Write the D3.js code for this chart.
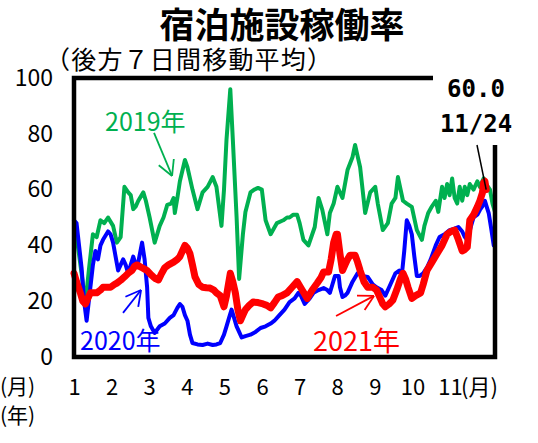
<!DOCTYPE html>
<html>
<head>
<meta charset="utf-8">
<script src="https://cdn.jsdelivr.net/npm/d3@7"></script>
<style>
  body { margin: 0; background: #fff; }
  text { font-family: 'Noto Sans CJK JP', 'Noto Sans', sans-serif; }
</style>
</head>
<body>
<script>
// day of year (1 = Jan 1) and occupancy rate (%), 7-day trailing average
const day2019 = [1,4,7,10,13,16,19,22,25,28,32,35,38,41,44,46,48,50,52,56,58,61,65,69,72,75,78,80,81,83,85,89,91,95,99,103,107,111,114,118,120,122,125,127,130,132,135,137,141,144,147,150,153,157,162,167,170,172,175,178,180,183,187,192,195,198,202,204,207,210,214,218,222,224,226,228,232,236,240,242,246,250,253,256,258,262,265,269,273,277,279,282,285,288,290,293,295,297,299,301,303,305,307,309,311,313,315,318,321,323,326,328,331,333,335];
const rate2019 = [44,40,30,19,32,44,43,49,48,50,47,41,43,61,59,58,53,54,56,59,56,50,41,47,50,54.5,55,57,51.6,57,63,70.6,68,60,53,59,61,64.5,61,47,60,78,96,78,50,28,44,52,59,60,60.6,60,49,44,48,49,50,50,51,51,48,42,40,46.6,57,52.7,44,51.6,55,61,57,67,71.7,76,72,68,51.6,59,61,55,45.5,48,55,57,64.5,56,55,53.8,45.5,42,47,51.6,54,56,52,61,57,62,58,64,57,55,61,56,61,58,62,60,63,61,64,62,60,55,52];

const day2020 = [1,3,5,7,9,11,14,16,18,20,22,24,28,30,32,34,36,38,40,42,44,46,48,50,52,55,57,59,60,62,65,69,73,77,80,83,85,87,89,91,93,95,99,103,107,111,114,117,120,122,124,126,128,130,132,134,137,141,145,149,153,157,160,164,168,172,176,179,181,184,188,191,195,199,202,204,206,208,211,212,214,216,218,222,226,230,234,238,241,245,248,252,256,259,261,263,265,267,269,271,273,275,278,281,284,288,291,295,299,303,306,309,311,313,316,318,321,323,325,327,329,330,332,334];
const rate2020 = [49,48,40,32,20,13,25,33,38,35,40,42,45,44,41,36,31,33,35,33,30,33,36,33,34,41,35,25,14,11,8.6,11,12,14,15,17.6,19,18,15,13,8,5,4.5,4.3,4.8,4.3,4.5,5,8,11,14,17,14,11,9,7,7.5,8,9,10.4,11,12,13,15,17,19.7,21,23,22,19,21,23,24,24.7,24,23,26,29,29,25,21.5,22,23,27,30,29,28.7,26,25,24,22,26,30,31,29,38,49,47,44,36,29,29,30,32,35,40,43,44,45.5,46,46.6,45,43,42,47,50,51,52.7,54,56,53,51.6,46,40];

const day2021 = [1,3,6,8,10,12,14,17,19,22,24,27,30,33,35,38,41,44,47,49,51,53,55,57,59,62,64,66,68,70,73,76,80,83,85,87,89,91,93,95,97,100,103,106,109,112,114,117,120,122,125,127,129,131,133,135,137,140,143,147,151,154,157,160,163,166,170,174,178,182,186,190,194,197,199,203,205,207,209,210,212,214,216,218,220,224,226,228,231,234,236,238,241,244,246,248,251,254,257,260,262,264,266,269,272,276,278,281,285,289,293,297,300,303,306,309,311,313,315,318,321,323,325,326,327,328];
const rate2021 = [30,27,23,20,19,21,23,23,23,24,25,25,25,26,26.5,27.5,28.7,30,31,32.5,33,32.5,32,31.5,31,29.5,28.7,28,27.6,29.5,32,33,34,35,36,38,40,39,37,33,28.7,26,25,24.8,24.7,24,23,22,18,22,30,27,23,17,13,15,17,18.5,19.7,19.5,19,18.5,17.6,19.5,21.5,22,23,25,27,24,21,24,26.5,28.5,30.5,30.5,35,41,44,44,37,31,33,35,36.5,36.5,34,31,27,25,25,25,24,21,19,18,19,20.4,24,28,30,28,25,21,22,23,26,31,34,37,40,44,45,45.5,42,38,38.5,39.4,49,51,53.8,56,58.8,62.5,63,60];

const months = [1,2,3,4,5,6,7,8,9,10,11];
const yTicks = [0,20,40,60,80,100];

const W = 538, H = 443;
const svg = d3.select("body").append("svg")
    .attr("width", W)
    .attr("height", H);

const x = d3.scaleLinear().domain([1, 335]).range([74, 495]);
const y = d3.scaleLinear().domain([0, 100]).range([357, 78]);
// month labels are spaced evenly in the original
const xm = d3.scalePoint().domain(months).range([74, 450]);

// title
svg.append("text")
    .attr("x", 282)
    .attr("y", 38)
    .attr("text-anchor", "middle")
    .attr("font-size", 35)
    .attr("font-weight", "bold")
    .text("宿泊施設稼働率");

svg.append("text")
    .attr("x", 45)
    .attr("y", 69)
    .attr("font-size", 25)
    .attr("letter-spacing", 1.2)
    .text("（後方７日間移動平均）");

// y axis
const yAxis = svg.append("g")
    .attr("transform", "translate(74,0)")
    .call(d3.axisLeft(y).tickValues(yTicks).tickSize(0).tickPadding(21));
yAxis.select(".domain").remove();
yAxis.selectAll("text")
    .attr("font-size", 23)
    .attr("fill", "#000")
    .style("font-family", "'Noto Sans CJK JP', sans-serif");

// x axis (months)
const xAxis = svg.append("g")
    .attr("transform", "translate(0,372)")
    .call(d3.axisBottom(xm).tickSize(0).tickPadding(7));
xAxis.select(".domain").remove();
xAxis.selectAll("text")
    .attr("font-size", 22)
    .attr("fill", "#000")
    .style("font-family", "'Noto Sans CJK JP', sans-serif");

svg.append("text").attr("x", 0).attr("y", 394).attr("font-size", 21).text("(月)");
svg.append("text").attr("x", 0).attr("y", 423).attr("font-size", 21).text("(年)");
svg.append("text").attr("x", 461).attr("y", 395).attr("font-size", 22).text("(月)");

// lines
const line = d3.line()
    .x(d => x(d[0]))
    .y(d => y(d[1]));

const series = [
    {days: day2019, vals: rate2019, color: "#00b050", width: 4},
    {days: day2020, vals: rate2020, color: "#0000ff", width: 4},
    {days: day2021, vals: rate2021, color: "#ff0000", width: 7}
];

series.forEach(s => {
    svg.append("path")
        .datum(d3.zip(s.days, s.vals))
        .attr("fill", "none")
        .attr("stroke", s.color)
        .attr("stroke-width", s.width)
        .attr("stroke-linejoin", "round")
        .attr("stroke-linecap", "round")
        .attr("d", line);
});

// frame (open at top-right for the callout)
svg.append("path")
    .attr("d", `M433,${y(100)}H${x(1)}V${y(0)}H${x(335)}V145`)
    .attr("fill", "none")
    .attr("stroke", "#000")
    .attr("stroke-width", 4.5);

// arrows
function arrow(x1, y1, x2, y2, color) {
    const g = svg.append("g").attr("stroke", color).attr("stroke-width", 1.8).attr("fill", "none");
    g.append("line").attr("x1", x1).attr("y1", y1).attr("x2", x2).attr("y2", y2);
    const a = Math.atan2(y1 - y2, x1 - x2);
    [-0.5, 0.5].forEach(o => {
        g.append("line")
            .attr("x1", x2).attr("y1", y2)
            .attr("x2", x2 + 17 * Math.cos(a + o))
            .attr("y2", y2 + 17 * Math.sin(a + o));
    });
}

arrow(x(64.5), y(80.3), x(78.8), y(64.9), "#00b050");
arrow(x(39.9), y(15.8), x(54.2), y(24.0), "#0000ff");
arrow(x(208.9), y(14.7), x(239), y(21.9), "#ff0000");

svg.append("text").attr("x", x(25.6)).attr("y", y(81)).attr("font-size", 25)
    .attr("fill", "#00b050").text("2019年");
svg.append("text").attr("x", x(5.8)).attr("y", y(2.5)).attr("font-size", 25)
    .attr("fill", "#0000ff").text("2020年");
svg.append("text").attr("x", x(190.7)).attr("y", y(2.2)).attr("font-size", 27)
    .attr("fill", "#ff0000").text("2021年");

// callout for latest value
const last = rate2021.length - 1;
svg.append("line")
    .attr("x1", 477).attr("y1", 145)
    .attr("x2", x(day2021[last])).attr("y2", y(rate2021[last]))
    .attr("stroke", "#000")
    .attr("stroke-width", 1.5);

svg.append("text")
    .attr("x", 476).attr("y", 97)
    .attr("text-anchor", "middle")
    .attr("font-size", 24)
    .attr("font-weight", "bold")
    .style("font-family", "'DejaVu Sans Mono', monospace")
    .text(rate2021[last].toFixed(1));

svg.append("text")
    .attr("x", 476).attr("y", 132)
    .attr("text-anchor", "middle")
    .attr("font-size", 24)
    .attr("font-weight", "bold")
    .style("font-family", "'DejaVu Sans Mono', monospace")
    .text("11/24");
</script>
</body>
</html>
